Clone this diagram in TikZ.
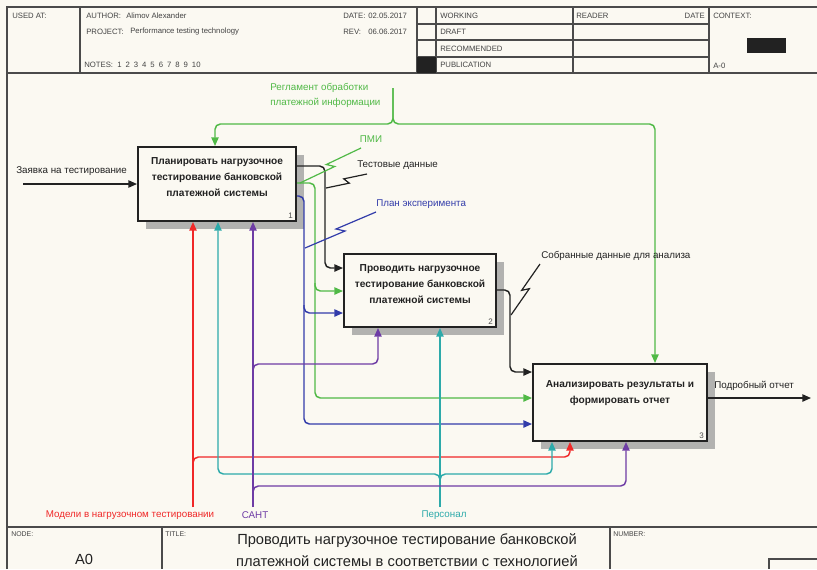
\documentclass[tikz,border=0pt]{standalone}
\usepackage{fontspec}
\setmainfont{Liberation Sans}
\usetikzlibrary{arrows.meta,calc,fit}
\definecolor{bg}{RGB}{251,249,242}
\definecolor{ink}{RGB}{34,34,34}
\definecolor{frm}{RGB}{75,75,75}
\definecolor{cgreen}{RGB}{80,185,70}
\definecolor{cblue}{RGB}{50,60,170}
\definecolor{cred}{RGB}{240,40,40}
\definecolor{cteal}{RGB}{45,170,170}
\definecolor{cpurp}{RGB}{110,60,165}
\definecolor{shad}{RGB}{178,178,176}
\newcommand\zigline[3]{\draw[zig,#1] (#2) -- ($(#2)!0.545!(#3)!2.2pt!-90:(#3)$) -- ($(#2)!0.455!(#3)!2.2pt!90:(#3)$) -- (#3);}
\tikzset{
 box/.style={draw=ink, line width=1.5pt, fill=bg, inner sep=0pt},
 boxtxt/.style={font=\fontsize{7.6}{12}\selectfont\bfseries, text=ink, align=center, inner sep=0pt},
 numtxt/.style={font=\fontsize{6}{7}\selectfont, text=ink!80, inner sep=0pt, anchor=south east},
 arr/.style={line width=1.1pt, rounded corners=4pt, -{Triangle[length=6.5pt,width=5.5pt]}},
 lbl/.style={font=\fontsize{7.35}{11.25}\selectfont, inner sep=0pt},
 hdr/.style={font=\fontsize{5.8}{7}\selectfont, text=ink!85, inner sep=0pt, anchor=west},
 frame/.style={draw=frm, line width=1.1pt},
 zig/.style={line width=0.9pt},
}
\begin{document}
\begin{tikzpicture}[x=0.75pt,y=-0.75pt]
\useasboundingbox (0,0) rectangle (817,569);
\fill[bg] (0,0) rectangle (817,569);
% ---------- frame and header ----------
\draw[frame] (7,569) -- (7,7) -- (817,7);
\draw[frame] (7,73) -- (817,73);
\foreach \xx in {80,417,436,573,709} \draw[frame] (\xx,7) -- (\xx,73);
\foreach \yy in {24,40,57} \draw[frame] (417,\yy) -- (709,\yy);
\fill[ink] (417,57) rectangle (436,73);
\fill[ink] (747,38) rectangle (786,53);
\node[hdr] (hused) at (12,15.5) {USED AT:};
\node[hdr] (hauth) at (86,15.5) {AUTHOR:};
\node[hdr] (hauthv) at (126,15.5) {Alimov Alexander};
\node[hdr] (hproj) at (86,31.5) {PROJECT:};
\node[hdr] (hprojv) at (130,31.5) {Performance testing technology};
\node[hdr] (hnotes) at (84,65) {NOTES:};
\foreach \i in {1,...,10} \node[hdr] (hn\i) at ({117+(\i-1)*8.3},65) {\i};
\node[hdr] (hdate) at (343,15.5) {DATE:};
\node[hdr] (hdatev) at (368,15.5) {02.05.2017};
\node[hdr] (hrev) at (343,31.5) {REV:};
\node[hdr] (hrevv) at (368,31.5) {06.06.2017};
\node[hdr] (hwork) at (440,15.5) {WORKING};
\node[hdr] (hdraft) at (440,32) {DRAFT};
\node[hdr] (hrec) at (440,48.5) {RECOMMENDED};
\node[hdr] (hpub) at (440,65) {PUBLICATION};
\node[hdr] (hread) at (576,15.5) {READER};
\node[hdr, anchor=east] (hrdate) at (705,15.5) {DATE};
\node[hdr] (hctx) at (713,15.5) {CONTEXT:};
\node[hdr] (hctxv) at (713,65.5) {A-0};
% ---------- bottom title block ----------
\draw[frame] (7,527) -- (817,527);
\draw[frame] (162,527) -- (162,569);
\draw[frame] (610,527) -- (610,569);
\draw[frame] (817,559) -- (769,559) -- (769,569);
\node[hdr, font=\fontsize{5.2}{6}\selectfont] (fnode) at (11,534) {NODE:};
\node[hdr, font=\fontsize{5.2}{6}\selectfont] (ftitle) at (165,534) {TITLE:};
\node[hdr, font=\fontsize{5.2}{6}\selectfont] (fnum) at (613,534) {NUMBER:};
\node[inner sep=0pt, font=\fontsize{11}{16.5}\selectfont, text=ink] (fa0) at (84,559) {A0};
\node[inner sep=0pt, font=\fontsize{11}{16.5}\selectfont, text=ink, align=center, anchor=north] (ftext) at (407,533) {Проводить нагрузочное тестирование банковской\\платежной системы в соответствии с технологией};
% ---------- shadows and boxes ----------
\fill[shad] (146,155) rectangle (304,229);
\fill[shad] (352,262) rectangle (504,335);
\fill[shad] (541,372) rectangle (715,449);
\node[box, fit={(138,147) (296,221)}] (box1) {};
\node[box, fit={(344,254) (496,327)}] (box2) {};
\node[box, fit={(533,364) (707,441)}] (box3) {};
\node[boxtxt] (t1) at ($(box1.center)+(0,-7)$) {Планировать нагрузочное\\тестирование банковской\\платежной системы};
\node[boxtxt] (t2) at ($(box2.center)+(0,-6.5)$) {Проводить нагрузочное\\тестирование банковской\\платежной системы};
\node[boxtxt] (t3) at ($(box3.center)+(0,-9)$) {Анализировать результаты и\\формировать отчет};
\node[numtxt] (n1) at ($(box1.south east)+(-4,-3)$) {1};
\node[numtxt] (n2) at ($(box2.south east)+(-4,-3)$) {2};
\node[numtxt] (n3) at ($(box3.south east)+(-4,-3)$) {3};
% ---------- coordinates ----------
\coordinate (in1) at (23,184);
\coordinate (ctl) at (393,88);
\coordinate (cl) at (215,124);
\coordinate (cr) at (655,124);
\coordinate (k1) at (325,166);
\coordinate (k2) at (325,268);
\coordinate (g1) at (315,183);
\coordinate (g2) at (315,291);
\coordinate (g3) at (315,398);
\coordinate (b1) at (304,196);
\coordinate (b2) at (304,313);
\coordinate (b3) at (304,424);
\coordinate (s1) at (510,290);
\coordinate (s2) at (510,372);
\coordinate (out3) at (811,398);
\coordinate (r0) at (193,507);
\coordinate (rj) at (193,457);
\coordinate (r1) at (570,457);
\coordinate (p0) at (440,507);
\coordinate (pj) at (440,474);
\coordinate (pl) at (218,474);
\coordinate (pr) at (552,474);
\coordinate (m0) at (253,507);
\coordinate (mj1) at (253,364);
\coordinate (m1) at (378,364);
\coordinate (mj2) at (253,486);
\coordinate (m2) at (626,486);
% ---------- connectors ----------
\draw[arr,ink] (in1) -- (in1 -| box1.west);
\draw[arr,cgreen] (ctl) |- (cl) -- (cl |- box1.north);
\draw[arr,cgreen] (ctl) |- (cr) -- (cr |- box3.north);
\draw[arr,ink] (box1.east |- k1) -- (k1) -- (k2) -- (k2 -| box2.west);
\draw[arr,cgreen] (box1.east |- g1) -- (g1) -- (g3) -- (g3 -| box3.west);
\draw[arr,cgreen] ($(g2)+(0,-8)$) |- (g2 -| box2.west);
\draw[arr,cblue] (box1.east |- b1) -- (b1) -- (b3) -- (b3 -| box3.west);
\draw[arr,cblue] ($(b2)+(0,-8)$) |- (b2 -| box2.west);
\draw[arr,ink] (box2.east |- s1) -- (s1) -- (s2) -- (s2 -| box3.west);
\draw[arr,ink] (box3.east |- out3) -- (out3);
\draw[arr,cred] (r0) -- (r0 |- box1.south);
\draw[arr,cred] ($(rj)+(0,8)$) |- (r1) -- (r1 |- box3.south);
\draw[arr,cteal] (p0) -- (p0 |- box2.south);
\draw[arr,cteal] ($(pj)+(0,8)$) |- (pl) -- (pl |- box1.south);
\draw[arr,cteal] ($(pj)+(0,8)$) |- (pr) -- (pr |- box3.south);
\draw[arr,cpurp] (m0) -- (m0 |- box1.south);
\draw[arr,cpurp] ($(mj1)+(0,8)$) |- (m1) -- (m1 |- box2.south);
\draw[arr,cpurp] ($(mj2)+(0,8)$) |- (m2) -- (m2 |- box3.south);
% ---------- labels ----------
\node[lbl,text=cgreen,anchor=west,align=left] (lreg) at (270,95.5) {Регламент обработки\\платежной информации};
\node[lbl,text=cgreen] (lpmi) at (371,139) {ПМИ};
\node[lbl,text=ink,anchor=west] (ltest) at (357,165) {Тестовые данные};
\node[lbl,text=cblue,anchor=west] (lplan) at (376,204) {План эксперимента};
\node[lbl,text=ink,anchor=west] (lsob) at (541,256) {Собранные данные для анализа};
\node[lbl,text=ink,anchor=west] (lin) at (16,171) {Заявка на тестирование};
\node[lbl,text=ink,anchor=west] (lout) at (714,386) {Подробный отчет};
\node[lbl,text=cred] (lred) at (130,515) {Модели в нагрузочном тестировании};
\node[lbl,text=cpurp] (lsant) at (255,515) {САНТ};
\node[lbl,text=cteal] (lpers) at (444,515) {Персонал};
% ---------- squiggles ----------
\coordinate (zpa) at (300,183); \coordinate (zpb) at (361,148);
\coordinate (zta) at (326,188); \coordinate (ztb) at (367,174);
\coordinate (zba) at (305,248); \coordinate (zbb) at (376,212);
\coordinate (zsa) at (511,315); \coordinate (zsb) at (540,264);
\zigline{cgreen}{zpa}{zpb}
\zigline{ink}{zta}{ztb}
\zigline{cblue}{zba}{zbb}
\zigline{ink}{zsa}{zsb}
\end{tikzpicture}
\end{document}
